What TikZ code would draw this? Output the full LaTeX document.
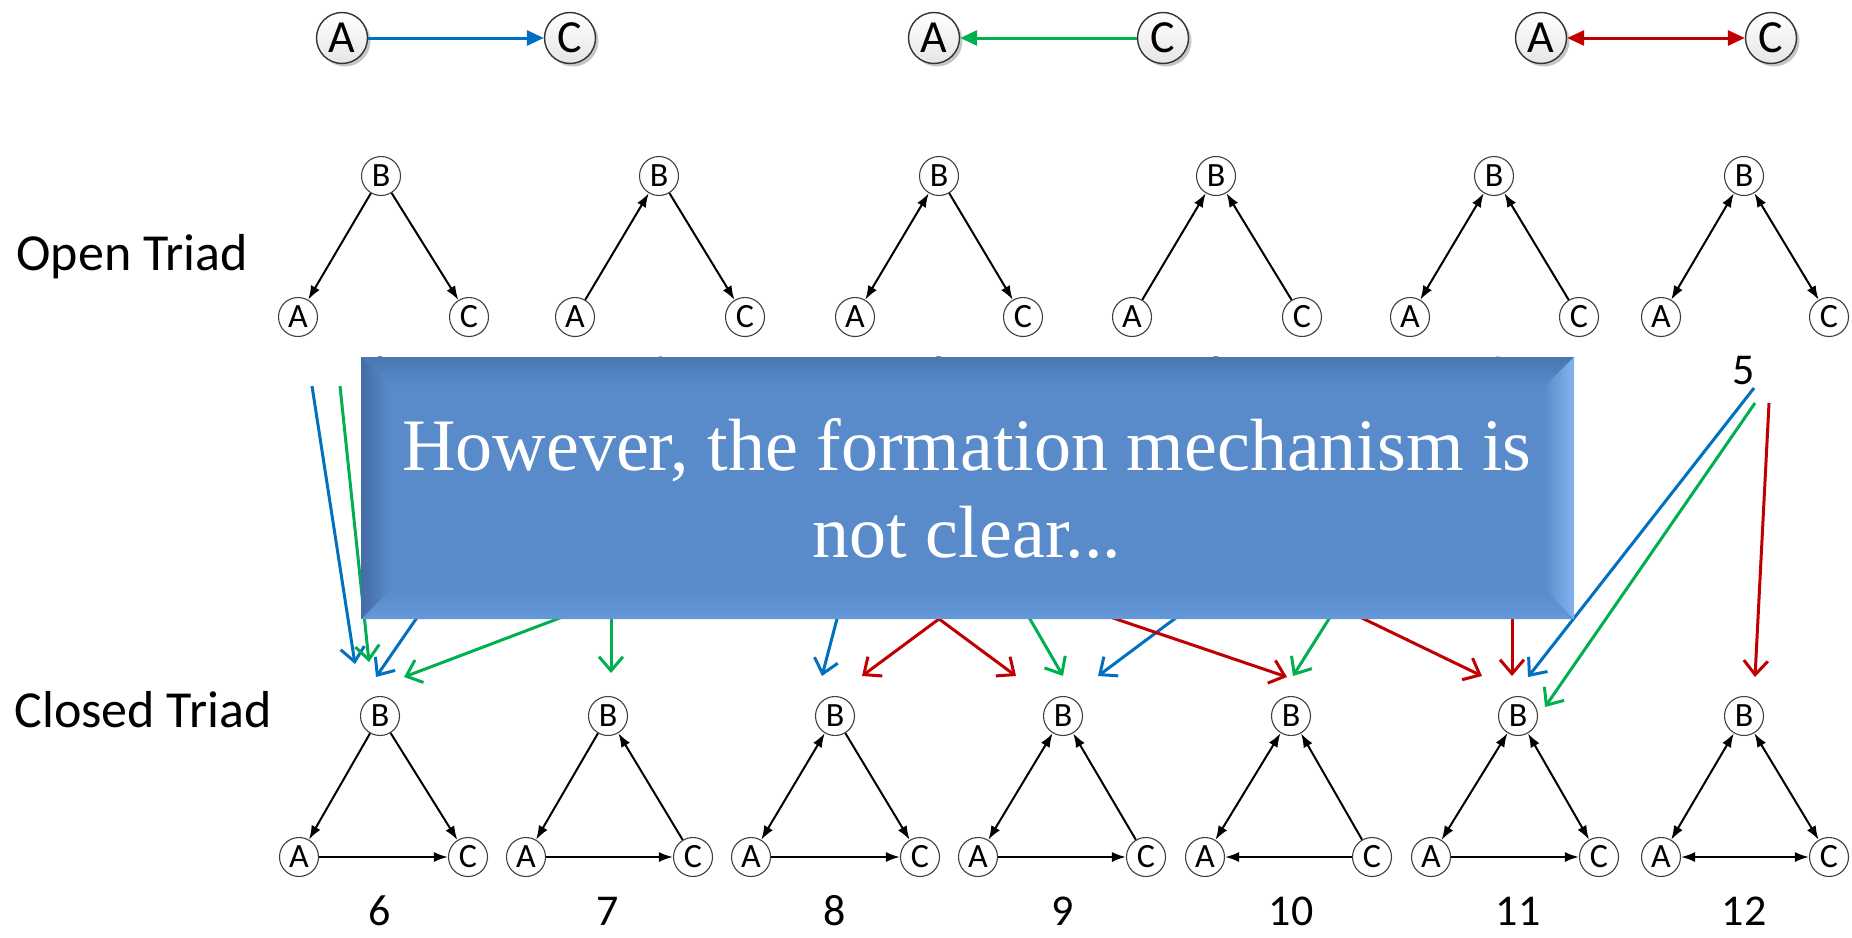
\documentclass[tikz,border=0pt]{standalone}
\usepackage{fontspec}
\setmainfont{Carlito}
\newfontfamily\boxfont{Liberation Serif}
\usetikzlibrary{arrows.meta,shadows}

\definecolor{cblue}{RGB}{0,112,192}
\definecolor{cgreen}{RGB}{0,176,80}
\definecolor{cred}{RGB}{192,0,0}
\definecolor{boxmid}{RGB}{89,139,203}
\definecolor{boxdark}{RGB}{68,108,166}
\definecolor{boxlight}{RGB}{132,180,240}
\definecolor{boxtop}{RGB}{74,118,178}
\definecolor{boxbot}{RGB}{100,152,216}

\tikzset{
  vert/.style={circle,draw=black!75,fill=white,line width=1.1pt,minimum size=39pt,inner sep=0pt,font=\fontsize{34}{34}\selectfont},
  bigvert/.style={circle,draw=black!80,line width=1.4pt,minimum size=51pt,inner sep=0pt,top color=white,bottom color=black!10,drop shadow={shadow xshift=3pt,shadow yshift=-3pt,opacity=.45},font=\fontsize{46}{46}\selectfont},
  tie/.style={line width=2pt,-{Latex[length=14pt,width=10pt]}},
  mutual/.style={line width=2pt,{Latex[length=14pt,width=10pt]}-{Latex[length=14pt,width=10pt]}},
  toptie/.style={line width=3pt,-{Triangle[length=17pt,width=15pt]}},
  toptwo/.style={line width=3pt,{Triangle[length=17pt,width=15pt]}-{Triangle[length=17pt,width=15pt]}},
  link/.style={line width=3pt,-{Straight Barb[length=14pt,width=24pt]}},
  num/.style={inner sep=0pt,font=\fontsize{44}{44}\selectfont},
  side/.style={font=\fontsize{52}{52}\selectfont},
}

\begin{document}
\begin{tikzpicture}[x=1pt,y=-1pt]
\useasboundingbox (0,0) rectangle (1852,937);
% new tie between A and C
\node[bigvert] (tA1) at (342,38) {A};
\node[bigvert] (tC1) at (570,38) {C};
\node[bigvert] (tA2) at (934,38) {A};
\node[bigvert] (tC2) at (1163,38) {C};
\node[bigvert] (tA3) at (1541,38) {A};
\node[bigvert] (tC3) at (1771,38) {C};
\draw[toptie,cblue] (tA1) -- (tC1);
\draw[toptie,cgreen] (tC2) -- (tA2);
\draw[toptwo,cred] (tA3) -- (tC3);

\node[side] (open) at (132,257) {Open Triad};
\node[side] (closed) at (143,710) {Closed Triad};

% open triads
\foreach \n/\a/\b/\c in {0/298/381/469,1/575/659/745,2/855/939/1023,3/1132/1216/1302,4/1410/1494/1579,5/1661/1744/1829}{
  \node[vert] (A\n) at (\a,317) {A};
  \node[vert] (B\n) at (\b,176) {B};
  \node[vert] (C\n) at (\c,317) {C};
  \node[num] (n\n) at (\b,371) {\n};
}
\draw[tie] (B0) -- (A0); \draw[tie] (B0) -- (C0);
\draw[tie] (A1) -- (B1); \draw[tie] (B1) -- (C1);
\draw[mutual] (A2) -- (B2); \draw[tie] (B2) -- (C2);
\draw[tie] (A3) -- (B3); \draw[tie] (C3) -- (B3);
\draw[mutual] (A4) -- (B4); \draw[tie] (C4) -- (B4);
\draw[mutual] (A5) -- (B5); \draw[mutual] (B5) -- (C5);

% closed triads
\foreach \n/\a/\b/\c in {6/299/380/468,7/526/608/693,8/751/835/920,9/978/1063/1146,10/1205/1291/1372,11/1431/1518/1599,12/1661/1744/1829}{
  \node[vert] (A\n) at (\a,857) {A};
  \node[vert] (B\n) at (\b,716) {B};
  \node[vert] (C\n) at (\c,857) {C};
  \node[num] (n\n) at (\b,911) {\n};
}
\draw[tie] (B6) -- (A6); \draw[tie] (B6) -- (C6); \draw[tie] (A6) -- (C6);
\draw[tie] (B7) -- (A7); \draw[tie] (C7) -- (B7); \draw[tie] (A7) -- (C7);
\draw[mutual] (A8) -- (B8); \draw[tie] (B8) -- (C8); \draw[tie] (A8) -- (C8);
\draw[mutual] (A9) -- (B9); \draw[tie] (C9) -- (B9); \draw[tie] (A9) -- (C9);
\draw[mutual] (A10) -- (B10); \draw[tie] (C10) -- (B10); \draw[tie] (C10) -- (A10);
\draw[mutual] (A11) -- (B11); \draw[mutual] (B11) -- (C11); \draw[tie] (A11) -- (C11);
\draw[mutual] (A12) -- (B12); \draw[mutual] (B12) -- (C12); \draw[mutual] (A12) -- (C12);

% transitions
\foreach \i/\col/\sx/\sy/\ex/\ey in {1/cblue/312/386/355/664,2/cgreen/340/386/369/662,
  3/cblue/574/390/376/677,4/cgreen/1162/390/404/677,5/cgreen/611/390/611/673,
  6/cblue/897/390/822/676,7/cred/1248/390/862/676,8/cred/630/390/1016/676,
  9/cgreen/897/390/1063/676,10/cblue/1481/390/1098/676,11/cred/441/390/1287/677,
  12/cgreen/1473/390/1293/676,13/cred/890/390/1482/676,14/cred/1512/390/1512/676,
  15/cblue/1754/388/1528/677,16/cgreen/1755/403/1545/707,17/cred/1769/403/1755/677}{
  \coordinate (s\i) at (\sx,\sy);
  \coordinate (e\i) at (\ex,\ey);
  \draw[link,\col] (s\i) -- (e\i);
}

% message box
\fill[boxmid] (361,357) rectangle (1574,619);
\shade[top color=boxtop,bottom color=boxmid] (361,357) -- (1574,357) -- (1544,387) -- (391,387) -- cycle;
\shade[top color=boxmid,bottom color=boxbot] (361,619) -- (391,589) -- (1544,589) -- (1574,619) -- cycle;
\shade[left color=boxdark,right color=boxmid] (361,357) -- (391,387) -- (391,589) -- (361,619) -- cycle;
\shade[left color=boxmid,right color=boxlight] (1574,357) -- (1544,387) -- (1544,589) -- (1574,619) -- cycle;
\node[text=white,align=center,font=\boxfont\fontsize{74}{87}\selectfont] (msg) at (967,488) {However, the formation mechanism is\\not clear...};
\end{tikzpicture}
\end{document}
